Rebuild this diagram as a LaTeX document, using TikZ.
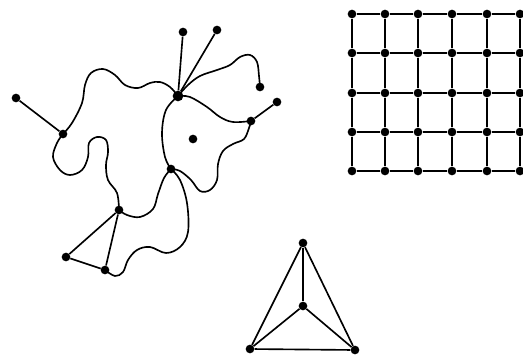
\documentclass[tikz,border=0pt]{standalone}
\usepackage{tikz}
\usetikzlibrary{positioning}
\tikzset{
  vtx/.style={circle, fill=black, inner sep=0pt, minimum size=0.26cm},
  hubvtx/.style={vtx, minimum size=0.32cm},
  edge/.style={draw=black, line width=1.4pt},
  curve/.style={edge, smooth, tension=0.6},
  gedge/.style={draw=black, line width=1.7pt}
}
\begin{document}
\begin{tikzpicture}[x=0.03cm, y=-0.03cm]
  \useasboundingbox (0,0) rectangle (523,358);

  % Left graph vertices
  \node[vtx] (v1) at (16,98) {};
  \node[vtx] (v2) at (63,134) {};
  \node[hubvtx] (v3) at (178,96) {};
  \node[vtx] (v4) at (183,32) {};
  \node[vtx] (v5) at (217,30) {};
  \node[vtx] (v6) at (260,87) {};
  \node[vtx] (v7) at (277,102) {};
  \node[vtx] (v8) at (251,121) {};
  \node[vtx] (v9) at (193,139) {};
  \node[vtx] (v10) at (171,169) {};
  \node[vtx] (v11) at (119,210) {};
  \node[vtx] (v12) at (66,257) {};
  \node[vtx] (v13) at (105,270) {};

  % Straight edges
  \draw[edge] (v1) -- (v2);
  \draw[edge] (v3) -- (v4);
  \draw[edge] (v3) -- (v5);
  \draw[edge] (v8) -- (v7);
  \draw[edge] (v11) -- (v12);
  \draw[edge] (v11) -- (v13);
  \draw[edge] (v12) -- (v13);

  % Curved edges
  \draw[curve] plot coordinates {(v2) (72,123) (82,103) (85,85) (91,73) (103,69)
    (115,75) (125,85) (138,88) (150,83) (160,82) (170,87) (v3)};
  \draw[curve] plot coordinates {(v2) (57,143) (53,157) (60,170) (70,175) (82,170)
    (88,157) (89,143) (97,137) (106,140) (108,152) (106,165) (108,180) (117,193) (v11)};
  \draw[curve] plot coordinates {(v3) (166,110) (162,133) (165,157) (v10)};
  \draw[curve] plot coordinates {(v3) (188,85) (200,76) (217,70) (230,65) (240,57)
    (250,55) (257,62) (259,76) (v6)};
  \draw[curve] plot coordinates {(v3) (190,97) (207,107) (220,117) (233,122) (v8)};
  \draw[curve] plot coordinates {(v8) (249,128) (244,139) (233,144) (223,151)
    (218,164) (217,180) (210,190) (200,191) (191,180) (180,171) (v10)};
  \draw[curve] plot coordinates {(v10) (164,178) (158,194) (153,209) (140,217)
    (127,215) (v11)};
  \draw[curve] plot coordinates {(v10) (180,180) (187,203) (188,232) (180,247)
    (166,253) (150,247) (137,250) (128,260) (123,272) (115,276) (v13)};

  % Grid graph
  \foreach \x [count=\i] in {352,385,418,452,487,520} {
    \foreach \y [count=\j] in {14,53,93,132,171} {
      \node[vtx] (g-\i-\j) at (\x,\y) {};
    }
  }
  \foreach \i in {1,...,6} {
    \foreach \j [evaluate=\j as \k using int(\j+1)] in {1,...,4} {
      \draw[gedge] (g-\i-\j) -- (g-\i-\k);
    }
  }
  \foreach \j in {1,...,5} {
    \foreach \i [evaluate=\i as \k using int(\i+1)] in {1,...,5} {
      \draw[gedge] (g-\i-\j) -- (g-\k-\j);
    }
  }

  % Tetrahedron graph
  \node[vtx] (t1) at (303,243) {};
  \node[vtx] (t2) at (303,306) {};
  \node[vtx] (t3) at (250,349) {};
  \node[vtx] (t4) at (355,350) {};
  \draw[edge] (t1) -- (t2); \draw[edge] (t1) -- (t3);
  \draw[edge] (t1) -- (t4); \draw[edge] (t2) -- (t3);
  \draw[edge] (t2) -- (t4); \draw[edge] (t3) -- (t4);
\end{tikzpicture}
\end{document}
